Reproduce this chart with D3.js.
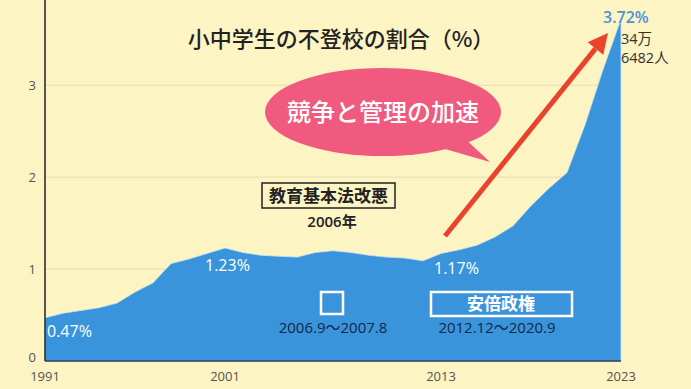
<!DOCTYPE html>
<html>
<head>
<meta charset="utf-8">
<script src="https://cdn.jsdelivr.net/npm/d3@7"></script>
<style>
  body { margin: 0; background: #fcf4c3; }
  svg { display: block; }
  text { font-family: "Noto Sans CJK JP", "Noto Sans", sans-serif; }
  .num { font-family: "Open Sans", "Noto Sans CJK JP", sans-serif; }
</style>
</head>
<body>
<svg id="chart"></svg>
<script>
// dati: percentuale di alunni non frequentanti (elementari + medie)
var anni = d3.range(1991, 2024);
var valori = [0.47, 0.52, 0.55, 0.58, 0.63, 0.75, 0.85, 1.06, 1.11, 1.17,
              1.23, 1.18, 1.15, 1.14, 1.13, 1.18, 1.20, 1.18, 1.15, 1.13,
              1.12, 1.09, 1.17, 1.21, 1.26, 1.35, 1.47, 1.69, 1.88, 2.05,
              2.57, 3.17, 3.72];
var tickAnni = [1991, 2001, 2013, 2023];
var tickY = [0, 1, 2, 3];
var etichette = [
    { anno: 1991, testo: "0.47%" },
    { anno: 2001, testo: "1.23%" },
    { anno: 2013, testo: "1.17%" }
];

var W = 691, H = 389;
var svg = d3.select("#chart").attr("width", W).attr("height", H);

var x = d3.scaleLinear().domain([1991, 2023]).range([45, 621]);
var y = d3.scaleLinear().domain([0, 3.72]).range([361, 19]);

svg.append("rect").attr("width", W).attr("height", H).attr("fill", "#fcf4c3");

// griglia
svg.selectAll(".grid").data(tickY.filter(d => d > 0)).enter()
    .append("line")
    .attr("x1", 45).attr("x2", 621)
    .attr("y1", d => y(d)).attr("y2", d => y(d))
    .attr("stroke", "#e6ddb8").attr("stroke-width", 1);

// area
var area = d3.area()
    .x((d, i) => x(anni[i]))
    .y0(y(0))
    .y1(d => y(d));

svg.append("path")
    .datum(valori)
    .attr("d", area)
    .attr("fill", "#3a94db")
    .attr("stroke", "#cfe4ef")
    .attr("stroke-width", 0.8);

// assi
svg.append("line").attr("x1", 45).attr("x2", 45).attr("y1", 0).attr("y2", y(0))
    .attr("stroke", "#222").attr("stroke-width", 1.5);
svg.append("line").attr("x1", 45).attr("x2", 621).attr("y1", y(0)).attr("y2", y(0))
    .attr("stroke", "#1f3b5a").attr("stroke-width", 1.5);

svg.selectAll(".ytick").data(tickY).enter()
    .append("text")
    .attr("class", "num")
    .attr("x", 36).attr("y", d => y(d) + 5 - (d === 0 ? 4 : 0))
    .attr("text-anchor", "end")
    .attr("font-size", 13).attr("fill", "#555")
    .text(d => d);

svg.selectAll(".xtick").data(tickAnni).enter()
    .append("text")
    .attr("class", "num")
    .attr("x", d => x(d)).attr("y", 381)
    .attr("text-anchor", "middle")
    .attr("font-size", 13).attr("fill", "#555")
    .text(d => d);

// titolo
svg.append("text")
    .attr("x", 341).attr("y", 47)
    .attr("text-anchor", "middle")
    .attr("font-size", 22).attr("font-weight", 500).attr("fill", "#222")
    .text("小中学生の不登校の割合（%）");

// fumetto
svg.append("path")
    .attr("d", "M462,136 L490,162 L445,149 Z")
    .attr("fill", "#ef5a7e");
svg.append("ellipse")
    .attr("cx", 383).attr("cy", 112).attr("rx", 118).attr("ry", 44)
    .attr("fill", "#ef5a7e");
svg.append("text")
    .attr("x", 383).attr("y", 121)
    .attr("text-anchor", "middle")
    .attr("font-size", 24).attr("font-weight", 500).attr("fill", "#fff")
    .text("競争と管理の加速");

// freccia
var ax1 = 445, ay1 = 236, ax2 = 608, ay2 = 33;
var ang = Math.atan2(ay2 - ay1, ax2 - ax1);
var bx = ax2 - 20 * Math.cos(ang), by = ay2 - 20 * Math.sin(ang);
svg.append("line")
    .attr("x1", ax1).attr("y1", ay1).attr("x2", bx).attr("y2", by)
    .attr("stroke", "#e9432d").attr("stroke-width", 5);
var px = Math.sin(ang) * 10, py = -Math.cos(ang) * 10;
svg.append("path")
    .attr("d", "M" + ax2 + "," + ay2 + " L" + (bx + px) + "," + (by + py) + " L" + (bx - px) + "," + (by - py) + " Z")
    .attr("fill", "#e9432d");

// riquadro legge
svg.append("rect")
    .attr("x", 262).attr("y", 183).attr("width", 133).attr("height", 25)
    .attr("fill", "none").attr("stroke", "#222").attr("stroke-width", 1.5);
svg.append("text")
    .attr("x", 328.5).attr("y", 202)
    .attr("text-anchor", "middle")
    .attr("font-size", 17).attr("font-weight", 700).attr("fill", "#222")
    .text("教育基本法改悪");
svg.append("text")
    .attr("class", "num")
    .attr("x", 332).attr("y", 227)
    .attr("text-anchor", "middle")
    .attr("font-size", 15).attr("font-weight", 600).attr("fill", "#222")
    .text("2006年");

// etichette valori
svg.selectAll(".lab").data(etichette).enter()
    .append("text")
    .attr("class", "num")
    .attr("x", (d, i) => [47, 205, 434][i])
    .attr("y", (d, i) => [337, 271, 274][i])
    .attr("font-size", 16).attr("fill", "#fff")
    .text(d => d.testo);

svg.append("text")
    .attr("class", "num")
    .attr("x", 603).attr("y", 23)
    .attr("font-size", 16).attr("font-weight", 600).attr("fill", "#4a93da")
    .text("3.72%");
svg.append("text")
    .attr("class", "num")
    .attr("x", 621).attr("y", 44)
    .attr("font-size", 14.5).attr("fill", "#333")
    .text("34万");
svg.append("text")
    .attr("class", "num")
    .attr("x", 621).attr("y", 63)
    .attr("font-size", 14.5).attr("fill", "#333")
    .text("6482人");

// periodi politici
svg.append("rect")
    .attr("x", 321).attr("y", 292).attr("width", 22).attr("height", 22)
    .attr("fill", "none").attr("stroke", "#fff").attr("stroke-width", 2.5);
svg.append("text")
    .attr("class", "num")
    .attr("x", 333).attr("y", 333)
    .attr("text-anchor", "middle")
    .attr("font-size", 15).attr("fill", "#142744")
    .text("2006.9～2007.8");

svg.append("rect")
    .attr("x", 431).attr("y", 292).attr("width", 141).attr("height", 24)
    .attr("fill", "none").attr("stroke", "#fff").attr("stroke-width", 2.5);
svg.append("text")
    .attr("x", 501).attr("y", 310)
    .attr("text-anchor", "middle")
    .attr("font-size", 17).attr("font-weight", 700).attr("fill", "#fff")
    .text("安倍政権");
svg.append("text")
    .attr("class", "num")
    .attr("x", 497).attr("y", 333)
    .attr("text-anchor", "middle")
    .attr("font-size", 15).attr("fill", "#142744")
    .text("2012.12～2020.9");
</script>
</body>
</html>
